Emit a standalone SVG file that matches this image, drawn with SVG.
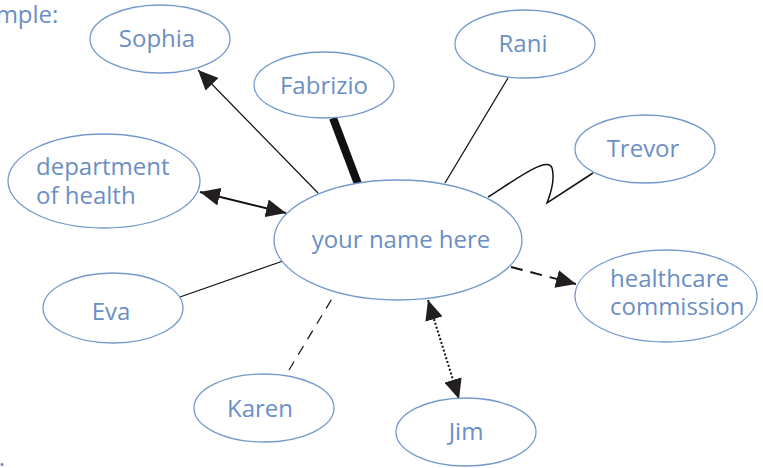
<svg xmlns="http://www.w3.org/2000/svg" width="763" height="468" viewBox="0 0 763 468">
<style>
.n ellipse{fill:#fff;stroke:#7399cc;stroke-width:1.3}
.n text,.t{font-family:"Open Sans","Liberation Sans",sans-serif;font-size:24px;fill:#6b8fc4;text-anchor:middle}
.n text.l{text-anchor:start}
.c{fill:none;stroke:#111}
</style>
<defs>
<marker id="ah" markerUnits="userSpaceOnUse" viewBox="0 0 20 18" refX="20" refY="9" markerWidth="20" markerHeight="18" orient="auto-start-reverse">
<path d="M0,0 L20,9 L0,18 Z" fill="#231f20"/>
</marker>
</defs>
<rect width="763" height="468" fill="#fff"/>
<text class="t" x="27" y="23">mple:</text>
<text class="t" x="2" y="466">.</text>
<g id="connectors">
<line class="c" x1="318" y1="193" x2="198" y2="70" stroke-width="1.2" marker-end="url(#ah)"/>
<line class="c" x1="333" y1="118" x2="358" y2="184" stroke-width="8"/>
<line class="c" x1="508" y1="78" x2="445" y2="183" stroke-width="1.3"/>
<path class="c" d="M488,197 C515,180 548,155 552,168 C556,182 548,200 547,203 L593,173" stroke-width="1.5"/>
<line class="c" x1="200" y1="192" x2="286" y2="213" stroke-width="2" marker-start="url(#ah)" marker-end="url(#ah)"/>
<line class="c" x1="180" y1="297" x2="283" y2="261" stroke-width="1.2"/>
<line class="c" x1="289" y1="370" x2="333" y2="297" stroke-width="1.2" stroke-dasharray="10 8"/>
<line class="c" x1="511" y1="267" x2="576" y2="284" stroke-width="2" stroke-dasharray="12 8" marker-end="url(#ah)"/>
<line class="c" x1="428" y1="300" x2="459" y2="399" stroke-width="2" stroke-dasharray="2 2" marker-start="url(#ah)" marker-end="url(#ah)"/>
</g>
<g id="sophia" class="n"><ellipse cx="160" cy="39" rx="70" ry="34"/><text x="157" y="47">Sophia</text></g>
<g id="fabrizio" class="n"><ellipse cx="324" cy="85" rx="70" ry="33"/><text x="324" y="94">Fabrizio</text></g>
<g id="rani" class="n"><ellipse cx="525" cy="44" rx="70" ry="34"/><text x="523" y="52">Rani</text></g>
<g id="trevor" class="n"><ellipse cx="645" cy="149" rx="70" ry="34"/><text x="643" y="157">Trevor</text></g>
<g id="department" class="n"><ellipse cx="104" cy="181" rx="96" ry="47"/><text class="l" x="36" y="175">department<tspan x="36" y="204">of health</tspan></text></g>
<g id="you" class="n"><ellipse cx="398" cy="240" rx="124" ry="60"/><text x="401" y="248">your name here</text></g>
<g id="eva" class="n"><ellipse cx="113" cy="308" rx="70" ry="35"/><text x="111" y="320">Eva</text></g>
<g id="karen" class="n"><ellipse cx="264" cy="408" rx="70" ry="34"/><text x="260" y="417">Karen</text></g>
<g id="jim" class="n"><ellipse cx="466" cy="432" rx="70" ry="34"/><text x="466" y="440">Jim</text></g>
<g id="healthcare" class="n"><ellipse cx="666" cy="296" rx="91" ry="46"/><text class="l" x="610" y="287">healthcare<tspan x="610" y="315">commission</tspan></text></g>
</svg>
